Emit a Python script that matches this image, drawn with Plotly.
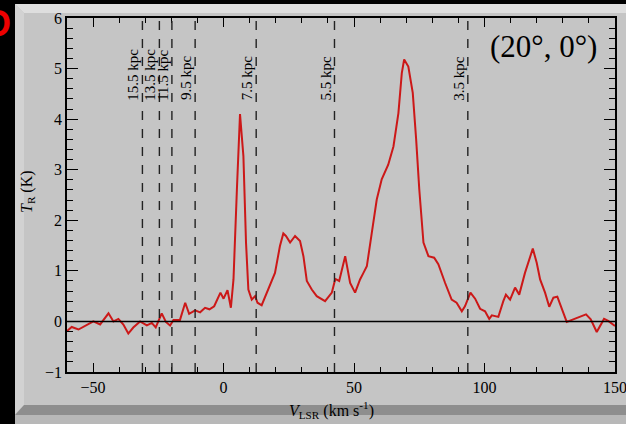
import plotly.graph_objects as go

# Spectrum toward (l, b) = (20°, 0°)
v_lsr = [-60, -58.2, -55.6, -53, -49.9, -47.3, -44.1, -42.2, -40.3, -38.4,
         -36.5, -34.6, -32, -29.4, -27.5, -26, -23.7, -22.1, -20.5, -19.2,
         -16.7, -14.7, -13.2, -10.9, -9, -7.1, -5.4, -3.6, -1.2, 0.0,
         1.5, 2.8, 3.8, 5.1, 6.3, 7.6, 8.6, 9.5, 10.8, 12.1,
         13, 14.6, 17.2, 19.7, 21.6, 22.9, 23.9, 25.5, 27.4, 29.3,
         30.6, 31.9, 33.8, 35.7, 38.9, 41.5, 42.8, 44.3, 46.6, 48.5,
         50.4, 52.3, 53.6, 54.9, 56.8, 58.7, 60.6, 63.1, 65.1, 67,
         68.3, 69.2, 70.8, 72.5, 73.8, 75, 76.6, 78.5, 80.7, 82.3,
         84.9, 87.4, 89.3, 91.3, 92.5, 94.6, 96.4, 98.3, 100.2, 101.8,
         102.8, 105.3, 107.2, 108.2, 109.8, 111.7, 113.3, 115.5, 118.5, 120,
         121.3, 123.2, 124.8, 126.4, 127.9, 128.9, 131.5, 134, 136.6, 138.9,
         140.7, 143, 145.8, 147.4, 150]
t_r = [-0.19, -0.11, -0.16, -0.09, 0.0, -0.06, 0.16, 0.0, 0.05, -0.06,
       -0.24, -0.12, 0.0, -0.08, -0.03, -0.12, 0.16, -0.01, -0.08, 0.03,
       0.03, 0.37, 0.15, 0.22, 0.18, 0.27, 0.24, 0.3, 0.57, 0.45,
       0.62, 0.27, 0.83, 2.6, 4.1, 3.27, 1.56, 0.63, 0.43, 0.5,
       0.37, 0.32, 0.63, 0.96, 1.49, 1.74, 1.69, 1.56, 1.69, 1.59,
       1.29, 0.8, 0.63, 0.5, 0.4, 0.57, 0.84, 0.8, 1.29, 0.76,
       0.57, 0.83, 0.96, 1.09, 1.75, 2.41, 2.81, 3.1, 3.46, 4.12,
       4.91, 5.18, 5.04, 4.52, 3.6, 2.61, 1.56, 1.29, 1.26, 1.13,
       0.76, 0.43, 0.37, 0.2, 0.3, 0.57, 0.45, 0.25, 0.2, 0.05,
       0.12, 0.09, 0.4, 0.53, 0.43, 0.67, 0.53, 0.96, 1.44, 1.16,
       0.83, 0.57, 0.29, 0.47, 0.49, 0.34, -0.01, 0.04, 0.09, 0.14,
       0.04, -0.21, 0.05, 0.01, -0.09]

# Velocities of galactocentric-distance markers
marker_velocities = [-31.1, -24.6, -19.8, -10.9, 12.5, 42.5, 93.6]
marker_labels = ["15.5 kpc", "13.5 kpc", "11.5 kpc", "9.5 kpc",
                 "7.5 kpc", "5.5 kpc", "3.5 kpc"]

x_ticks = [-50, 0, 50, 100, 150]
y_ticks = [-1, 0, 1, 2, 3, 4, 5, 6]

W, H = 626, 424
L, R, T, B = 67, 11, 18, 52
PW, PH = W - L - R, H - T - B

def px(x):
    return (x - L) / PW

def py(y):
    return (H - B - y) / PH

def poly(points):
    return "M " + " L ".join(f"{px(a):.5f},{py(b):.5f}" for a, b in points) + " Z"

serif = "Liberation Serif"
gray = "#c5c5c5"

fig = go.Figure()
fig.add_trace(go.Scatter(x=v_lsr, y=t_r, mode="lines",
                         line=dict(color="#cc1818", width=2),
                         hoverinfo="skip", showlegend=False))

shapes = []
# bevelled panel behind the chart
shapes.append(dict(type="path", xref="paper", yref="paper", layer="below",
                   path=poly([(15, 4), (640, 4), (640, 440), (15, 440)]),
                   fillcolor=gray, line=dict(width=0)))
shapes.append(dict(type="path", xref="paper", yref="paper", layer="below",
                   path=poly([(15, 4), (640, 4), (630, 13), (24, 13)]),
                   fillcolor="#dedede", line=dict(width=0)))
shapes.append(dict(type="path", xref="paper", yref="paper", layer="below",
                   path=poly([(15, 4), (24, 13), (24, 405), (15, 414)]),
                   fillcolor="#d2d2d2", line=dict(width=0)))
shapes.append(dict(type="path", xref="paper", yref="paper", layer="below",
                   path=poly([(24, 405), (640, 405), (640, 415), (15, 415)]),
                   fillcolor="#8e8e8e", line=dict(width=0)))
shapes.append(dict(type="path", xref="paper", yref="paper", layer="below",
                   path=poly([(15, 415), (640, 415), (640, 440), (15, 440)]),
                   fillcolor="#b8b8b8", line=dict(width=0)))

# zero baseline
shapes.append(dict(type="line", xref="paper", yref="y", x0=0, x1=1, y0=0, y1=0,
                   line=dict(color="black", width=1.6)))
# distance markers
for v in marker_velocities:
    shapes.append(dict(type="line", xref="x", yref="paper", x0=v, x1=v, y0=0, y1=1,
                       line=dict(color="#222222", width=1.4, dash="dash")))

annotations = []
for v, lab in zip(marker_velocities, marker_labels):
    annotations.append(dict(x=v, y=4.33, xref="x", yref="y", text=lab,
                            textangle=-90, showarrow=False, xanchor="right",
                            yanchor="bottom", xshift=1,
                            font=dict(family=serif, size=15, color="black")))
annotations.append(dict(x=px(543), y=py(47), xref="paper", yref="paper",
                        text="(20°, 0°)", showarrow=False,
                        xanchor="center", yanchor="middle",
                        font=dict(family=serif, size=31, color="black")))
annotations.append(dict(x=px(331), y=py(410), xref="paper", yref="paper",
                        text="<i>V</i><sub>LSR</sub> (km s<sup>-1</sup>)",
                        showarrow=False, xanchor="center", yanchor="middle",
                        font=dict(family=serif, size=16, color="black")))
annotations.append(dict(x=px(27), y=py(192), xref="paper", yref="paper",
                        text="<i>T</i><sub>R</sub> (K)", textangle=-90,
                        showarrow=False, xanchor="center", yanchor="middle",
                        font=dict(family=serif, size=16, color="black")))
annotations.append(dict(x=px(13), y=py(24), xref="paper", yref="paper",
                        text="<b>D</b>", showarrow=False,
                        xanchor="right", yanchor="middle",
                        font=dict(family="Liberation Sans", size=36, color="#ee0000")))

axis_common = dict(showline=True, linecolor="black", linewidth=1.6, mirror="ticks",
                   ticks="inside", tickcolor="black", tickwidth=1.4,
                   showgrid=False, zeroline=False, automargin=False,
                   ticklabeloverflow="allow",
                   tickfont=dict(family=serif, size=16, color="black"))

fig.update_layout(
    width=W, height=H, margin=dict(l=L, r=R, t=T, b=B, autoexpand=False),
    paper_bgcolor="black", plot_bgcolor=gray,
    shapes=shapes, annotations=annotations,
    xaxis=dict(range=[-60, 150], tickvals=x_ticks, ticklen=9,
               minor=dict(dtick=10, ticklen=5, ticks="inside", tickcolor="black"),
               **axis_common),
    yaxis=dict(range=[-1, 6], tickvals=y_ticks, ticklen=11,
               minor=dict(dtick=0.2, ticklen=6, ticks="inside", tickcolor="black"),
               **axis_common),
)

fig.write_html("out.html")
